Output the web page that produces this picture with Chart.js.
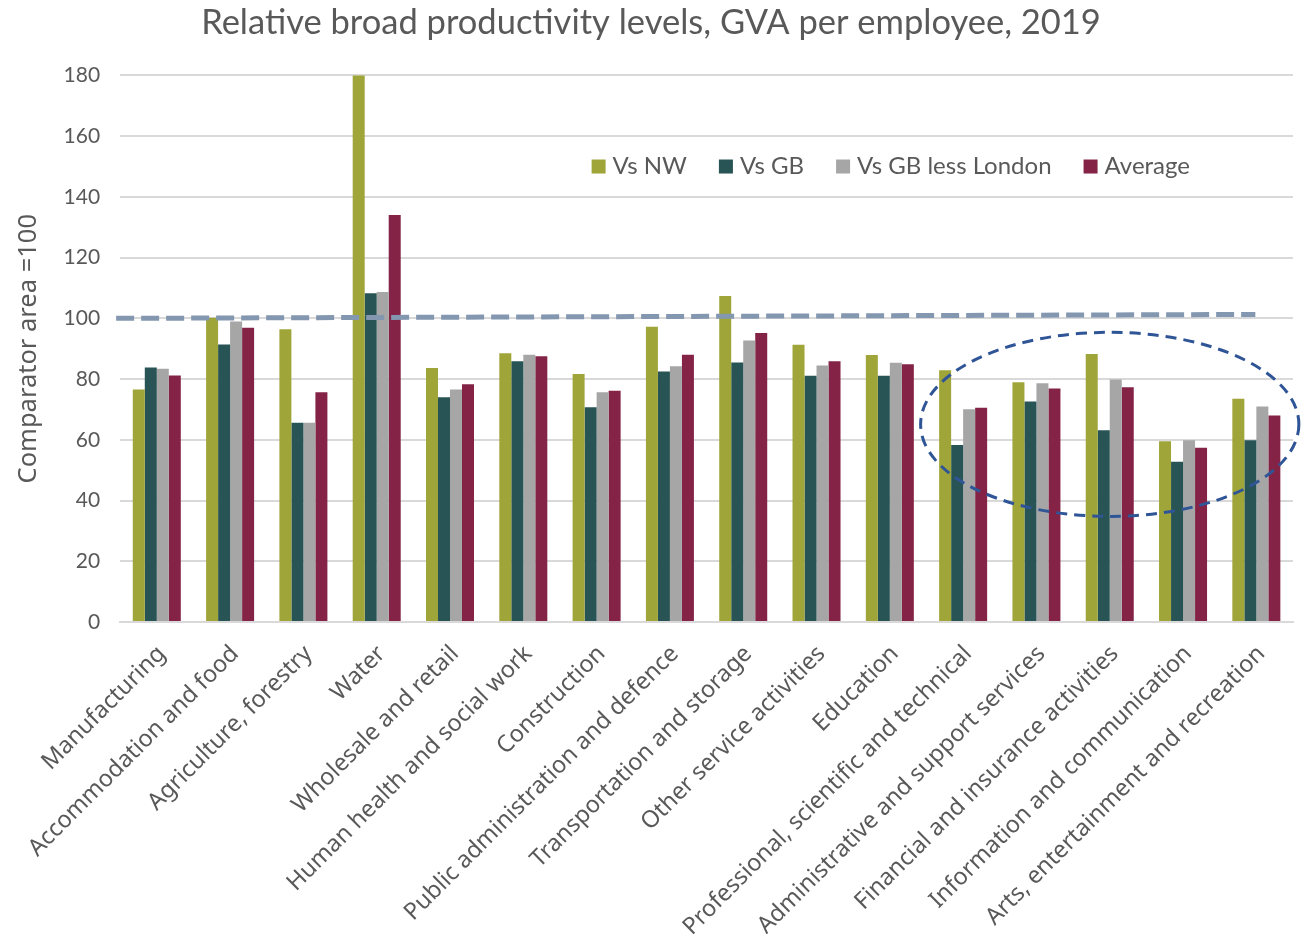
<!DOCTYPE html>
<html>

<head>
  <meta charset="UTF-8">
  <title>Relative broad productivity levels</title>
</head>

<body style="margin:0; background:#fff;">

<style type="text/css">
  .chartBox {
    width: 1314px;
    height: 934px;
  }
</style>

<div class="chartBox">
  <canvas id="myChart"></canvas>
</div>

<script src="https://cdn.jsdelivr.net/npm/chart.js@4.4.1/dist/chart.umd.min.js"></script>
<script>
const categories = [
  'Manufacturing', 'Accommodation and food', 'Agriculture, forestry', 'Water',
  'Wholesale and retail', 'Human health and social work', 'Construction',
  'Public administration and defence', 'Transportation and storage',
  'Other service activities', 'Education', 'Professional, scientific and technical',
  'Administrative and support services', 'Financial and insurance activities',
  'Information and communication', 'Arts, entertainment and recreation'
];
const vsNW = [76.6, 100.2, 96.4, 185, 83.7, 88.5, 81.7, 97.2, 107.4, 91.3, 87.9, 82.9, 79.0, 88.3, 59.5, 73.5];
const vsGB = [83.8, 91.4, 65.6, 108.3, 74.0, 85.9, 70.7, 82.5, 85.5, 81.1, 81.1, 58.3, 72.6, 63.2, 52.8, 59.9];
const vsGBLessLondon = [83.4, 99.0, 65.6, 108.7, 76.6, 88.0, 75.7, 84.2, 92.7, 84.5, 85.4, 70.1, 78.6, 79.9, 59.9, 71.0];
const average = [81.2, 96.9, 75.7, 134.0, 78.3, 87.5, 76.2, 88.0, 95.2, 85.9, 84.9, 70.6, 76.9, 77.3, 57.4, 68.0];
const yTicks = [0, 20, 40, 60, 80, 100, 120, 140, 160, 180];

// comparator line (hand drawn, rises slightly to the right)
const refStart = 100;
const refEnd = 101.3;
// highlighted group of sectors: centre category, half width in categories, value range
const ringCentre = 13;
const ringHalfWidth = 2.58;
const ringLow = 34.8;
const ringHigh = 95.4;

const textGrey = '#595959';

// dashed comparator line and dashed ring around the last sectors
const overlays = {
  id: 'overlays',
  afterDatasetsDraw(chart) {
    const {ctx, chartArea, scales: {x, y}} = chart;
    ctx.save();
    ctx.strokeStyle = '#8497b0';
    ctx.lineWidth = 5;
    ctx.setLineDash([18, 7]);
    ctx.beginPath();
    ctx.moveTo(chartArea.left - 4, y.getPixelForValue(refStart));
    ctx.lineTo(x.getPixelForValue(15) - 1, y.getPixelForValue(refEnd));
    ctx.stroke();

    const cx = x.getPixelForValue(ringCentre);
    const rx = x.getPixelForValue(ringCentre + ringHalfWidth) - cx;
    const top = y.getPixelForValue(ringHigh);
    const bottom = y.getPixelForValue(ringLow);
    ctx.strokeStyle = '#2f5597';
    ctx.lineWidth = 3;
    ctx.setLineDash([11, 7]);
    ctx.beginPath();
    ctx.ellipse(cx, (top + bottom) / 2, rx, (bottom - top) / 2, 0, 0, Math.PI * 2);
    ctx.stroke();
    ctx.restore();
  }
};

// legend sits inside the plot, right of centre
const innerLegend = {
  id: 'innerLegend',
  afterDraw(chart) {
    const {ctx, chartArea, scales: {y}} = chart;
    const items = chart.data.datasets;
    ctx.save();
    ctx.font = '24px Lato';
    ctx.textBaseline = 'middle';
    const box = 14, gapText = 7, gapItem = 32;
    let total = 0;
    items.forEach((ds, i) => {
      total += box + gapText + ctx.measureText(ds.label).width + (i < items.length - 1 ? gapItem : 0);
    });
    let px = chartArea.right - 103 - total;
    const py = y.getPixelForValue(150);
    items.forEach(ds => {
      ctx.fillStyle = ds.backgroundColor;
      ctx.fillRect(px, py - box / 2, box, box);
      px += box + gapText;
      ctx.fillStyle = textGrey;
      ctx.fillText(ds.label, px, py);
      px += ctx.measureText(ds.label).width + gapItem;
    });
    ctx.restore();
  }
};

const ctx = document.getElementById('myChart').getContext('2d');
const myChart = new Chart(ctx, {
    type: 'bar',
    data: {
        labels: categories,
        datasets: [
          {label: 'Vs NW', data: vsNW, backgroundColor: '#a0a539'},
          {label: 'Vs GB', data: vsGB, backgroundColor: '#285455'},
          {label: 'Vs GB less London', data: vsGBLessLondon, backgroundColor: '#a6a6a6'},
          {label: 'Average', data: average, backgroundColor: '#842346'}
        ]
    },
    options: {
        responsive: true,
        maintainAspectRatio: false,
        animation: false,
        datasets: {
          bar: {
            barPercentage: 1,
            categoryPercentage: 0.655,
            borderWidth: 0
          }
        },
        layout: {
          // labels leave some unused room below, so pull the axis down
          padding: {left: 9, right: 21, top: 0, bottom: -17}
        },
        scales: {
            x: {
                grid: {
                  display: false
                },
                border: {
                  display: true,
                  color: '#d9d9d9',
                  width: 2
                },
                ticks: {
                  minRotation: 45,
                  maxRotation: 45,
                  autoSkip: false,
                  padding: 10,
                  labelOffset: 5,
                  color: textGrey,
                  font: {
                      family: "'Noto Sans'",
                      size: 23.5
                  }
                }
            },
            y: {
                min: 0,
                max: 180,
                afterBuildTicks: (axis) => {
                  axis.ticks = yTicks.map(v => ({value: v}));
                },
                grid: {
                  color: '#d9d9d9',
                  lineWidth: 2,
                  drawTicks: false
                },
                border: {
                  display: false
                },
                ticks: {
                  padding: 20,
                  color: textGrey,
                  font: {
                      family: 'Lato',
                      size: 21
                  }
                },
                title: {
                  display: true,
                  text: 'Comparator area =100',
                  color: textGrey,
                  padding: {top: 4, bottom: 0},
                  font: {
                      family: "'Noto Sans'",
                      size: 25.5
                  }
                }
            }
        },
        plugins: {
          legend: {
              display: false,
            },
          tooltip: {
              enabled: false
            },
          title: {
              display: true,
              text: 'Relative broad productivity levels, GVA per employee, 2019',
              color: textGrey,
              padding: {top: 2, bottom: 32},
              font: {
                  family: 'Lato',
                  size: 34.5,
                  weight: 'normal'
              }
            }
        }
    },
    plugins: [overlays, innerLegend]
});
</script>

</body>
</html>
